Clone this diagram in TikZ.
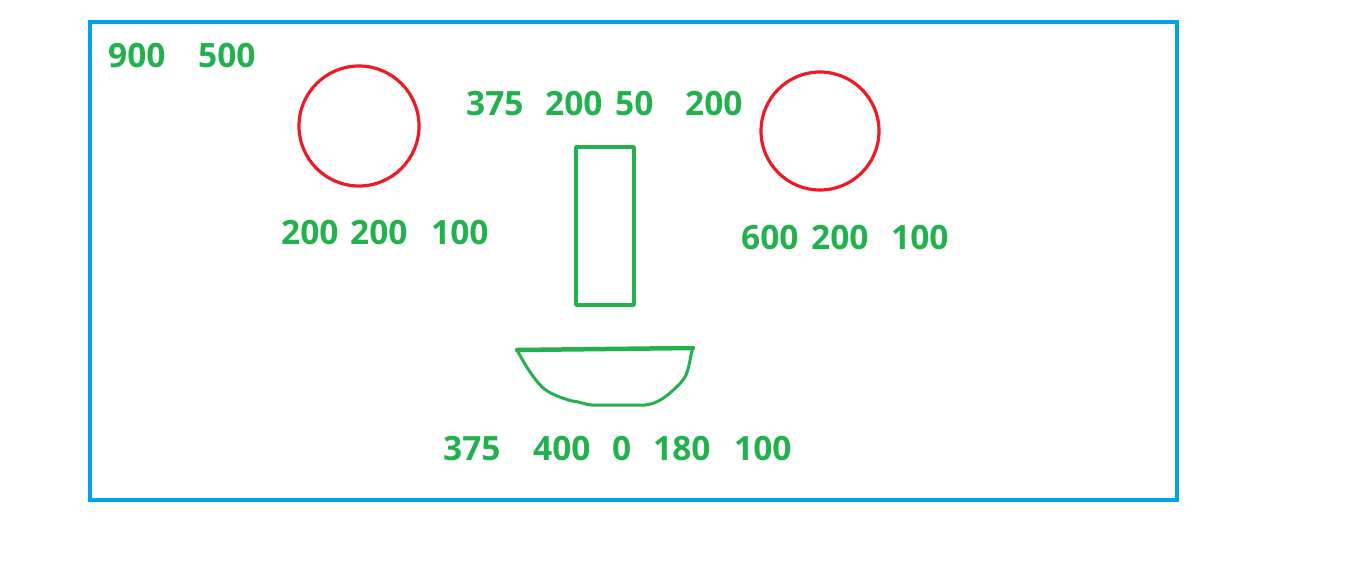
\documentclass[tikz,border=0pt]{standalone}
\usepackage{fontspec}
\setmainfont{Open Sans}
\definecolor{pblue}{HTML}{00A2E8}
\definecolor{pred}{HTML}{ED1C24}
\definecolor{pgreen}{HTML}{22B14C}
\begin{document}
\begin{tikzpicture}[x=1pt,y=-1pt,
  num/.style={anchor=base west,inner sep=0pt,text=pgreen,font=\fontsize{33.5}{38}\selectfont\bfseries},
  eye/.style={draw=pred,line width=3.2pt},
  greenline/.style={draw=pgreen,line width=3.5pt,line join=round,line cap=round}]
\useasboundingbox (0,0) rectangle (1359,574);
\node[draw=pblue,line width=4.5pt,minimum width=1087pt,minimum height=478pt,anchor=north west,inner sep=0pt,outer sep=0pt] (frame) at (90,22) {};
\node[eye,circle,minimum size=120pt,inner sep=0pt] (le) at (359,126) {};
\node[eye,circle,minimum size=118pt,inner sep=0pt] (re) at (820,131) {};
\node[greenline,minimum width=58pt,minimum height=158pt,anchor=north west,inner sep=0pt,outer sep=0pt,line cap=butt] (nose) at (576,147) {};
\coordinate (ml) at (517,350);
\coordinate (mr) at (693,348);
\draw[greenline,line width=4.5pt] (ml) -- (mr);
\draw[greenline,line width=3pt] (ml) .. controls (525,365) and (533,378) .. (543,388)
  .. controls (552,395) and (562,398) .. (572,401)
  .. controls (582,402) and (586,405) .. (592,405)
  -- (645,405) .. controls (656,404) and (664,398) .. (670,393)
  .. controls (678,386) and (684,380) .. (686,375)
  .. controls (690,365) and (690,356) .. (mr);
\node[num] (a1) at (108,67) {900};
\node[num] (a2) at (198,67) {500};
\node[num] (b1) at (466,115) {375};
\node[num] (b2) at (545,115) {200};
\node[num] (b3) at (615,115) {50};
\node[num] (b4) at (685,115) {200};
\node[num] (c1) at (281,244) {200};
\node[num] (c2) at (350,244) {200};
\node[num] (c3) at (431,244) {100};
\node[num] (d1) at (741,249) {600};
\node[num] (d2) at (811,249) {200};
\node[num] (d3) at (891,249) {100};
\node[num] (e1) at (443,460) {375};
\node[num] (e2) at (533,460) {400};
\node[num] (e3) at (612,460) {0};
\node[num] (e4) at (653,460) {180};
\node[num] (e5) at (734,460) {100};
\end{tikzpicture}
\end{document}
